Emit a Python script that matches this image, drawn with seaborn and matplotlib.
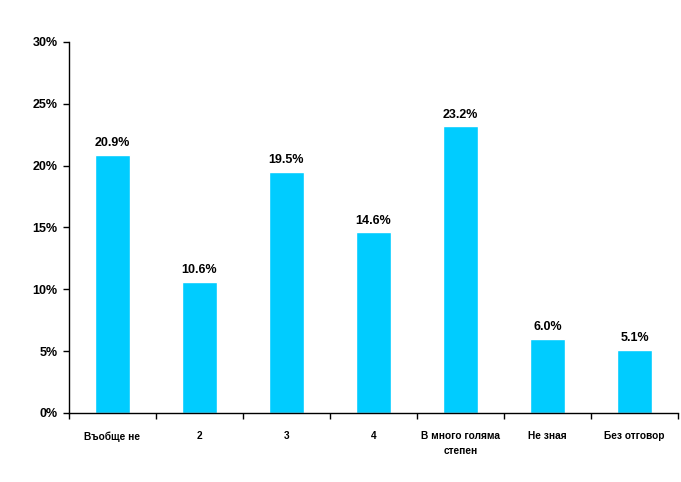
"""Bar chart of answer shares (recreated)."""
import matplotlib
matplotlib.use("Agg")
import matplotlib.pyplot as plt
from matplotlib.ticker import PercentFormatter, FixedLocator
import pandas as pd
import seaborn as sns

CYAN = "#00CCFF"

categories = ["Въобще не", "2", "3", "4", "В много голяма\nстепен", "Не зная", "Без отговор"]
shares = [20.9, 10.6, 19.5, 14.6, 23.2, 6.0, 5.1]


def main():
    sns.set_style("white")
    plt.rcParams["font.family"] = ["Liberation Sans", "DejaVu Sans"]
    plt.rcParams["font.weight"] = "bold"
    plt.rcParams["text.color"] = "black"
    plt.rcParams["xtick.color"] = "black"
    plt.rcParams["ytick.color"] = "black"

    data = pd.DataFrame({"answer": categories, "share": shares})

    fig = plt.figure(figsize=(6.81, 4.82), dpi=100)
    ax = fig.add_axes([0.1013, 0.1432, 0.8943, 0.7697])
    sns.barplot(data=data, x="answer", y="share", color=CYAN, width=0.4,
                saturation=1, ax=ax)

    ax.bar_label(ax.containers[0], fmt="%.1f%%", padding=4,
                 fontsize=9, fontweight="bold", color="black")

    ax.set_ylim(0, 30)
    ax.set_xlim(-0.5, len(categories) - 0.5)
    ax.set_yticks(range(0, 31, 5))
    ax.yaxis.set_major_formatter(PercentFormatter(decimals=0))
    ax.tick_params(axis="y", length=4, width=1, labelsize=9, left=True, pad=4)
    ax.tick_params(axis="x", which="major", length=0, labelsize=7.3, pad=13)
    ax.xaxis.set_minor_locator(FixedLocator([i - 0.5 for i in range(len(categories) + 1)]))
    ax.tick_params(axis="x", which="minor", length=4, width=1, bottom=True)
    for label in ax.get_xticklabels() + ax.get_yticklabels():
        label.set_fontweight("bold")
    for label in ax.get_xticklabels():
        label.set_linespacing(1.6)

    ax.set_xlabel("")
    ax.set_ylabel("")
    sns.despine(ax=ax)
    for side in ("left", "bottom"):
        ax.spines[side].set_color("black")
        ax.spines[side].set_linewidth(1)

    fig.savefig("out.png", dpi=100)


if __name__ == "__main__":
    main()
